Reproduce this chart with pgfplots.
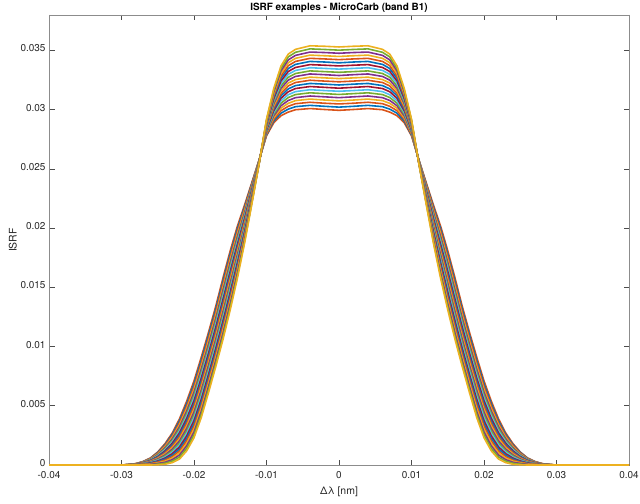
\documentclass[border=0pt]{standalone}
\usepackage{fontspec}
\setmainfont{TeX Gyre Heros}
\usepackage{pgfplots}
\usepackage{pgfplotstable}
\pgfplotsset{compat=1.18}
\definecolor{m1}{rgb}{0,0.447,0.741}
\definecolor{m2}{rgb}{0.85,0.325,0.098}
\definecolor{m3}{rgb}{0.929,0.694,0.125}
\definecolor{m4}{rgb}{0.494,0.184,0.556}
\definecolor{m5}{rgb}{0.466,0.674,0.188}
\definecolor{m6}{rgb}{0.301,0.745,0.933}
\definecolor{m7}{rgb}{0.635,0.078,0.184}
\pgfplotstableread{
x c0 c1 c2 c3 c4 c5 c6 c7 c8 c9 c10 c11 c12 c13 c14 c15 c16 c17 c18 c19 c20
-0.040 0 0 0 0 0 0 0 0 0 0 0 0 0 0 0 0 0 0 0 0 0
-0.030 0 0 0 0 0 0 0 0 0 0 0 0 0 0 0 0 0 0 0 0 0
-0.029 0.00004 0.00004 0.00004 0.00003 0.00003 0.00003 0.00003 0.00003 0.00002 0.00002 0.00002 0.00002 0.00002 0.00001 0.00001 0.00001 0.00001 0.00001 0 0 0
-0.028 0.00012 0.00011 0.00011 0.00010 0.00010 0.00009 0.00008 0.00008 0.00007 0.00007 0.00006 0.00005 0.00005 0.00004 0.00004 0.00003 0.00002 0.00002 0.00001 0.00001 0
-0.027 0.00030 0.00029 0.00027 0.00026 0.00024 0.00023 0.00021 0.00020 0.00018 0.00017 0.00015 0.00014 0.00012 0.00011 0.00009 0.00008 0.00006 0.00005 0.00003 0.00002 0
-0.026 0.00060 0.00057 0.00054 0.00051 0.00048 0.00045 0.00042 0.00039 0.00036 0.00033 0.00030 0.00027 0.00024 0.00021 0.00018 0.00015 0.00012 0.00009 0.00006 0.00003 0
-0.025 0.00110 0.00105 0.00099 0.00094 0.00088 0.00083 0.00078 0.00072 0.00067 0.00061 0.00056 0.00051 0.00045 0.00040 0.00034 0.00029 0.00024 0.00018 0.00013 0.00007 0.00002
-0.024 0.00180 0.00171 0.00163 0.00154 0.00145 0.00137 0.00128 0.00119 0.00110 0.00102 0.00093 0.00084 0.00076 0.00067 0.00058 0.00050 0.00041 0.00032 0.00023 0.00015 0.00006
-0.023 0.00270 0.00258 0.00245 0.00233 0.00220 0.00208 0.00195 0.00183 0.00170 0.00158 0.00145 0.00133 0.00120 0.00108 0.00095 0.00083 0.00070 0.00058 0.00045 0.00033 0.00020
-0.022 0.00390 0.00373 0.00356 0.00339 0.00322 0.00305 0.00288 0.00271 0.00254 0.00237 0.00220 0.00203 0.00186 0.00169 0.00152 0.00135 0.00118 0.00101 0.00084 0.00067 0.00050
-0.021 0.00540 0.00519 0.00498 0.00477 0.00456 0.00435 0.00414 0.00393 0.00372 0.00351 0.00330 0.00309 0.00288 0.00267 0.00246 0.00225 0.00204 0.00183 0.00162 0.00141 0.00120
-0.020 0.00710 0.00686 0.00662 0.00638 0.00614 0.00590 0.00566 0.00542 0.00518 0.00494 0.00470 0.00446 0.00422 0.00398 0.00374 0.00350 0.00326 0.00302 0.00278 0.00254 0.00230
-0.019 0.00910 0.00885 0.00859 0.00834 0.00808 0.00783 0.00757 0.00732 0.00706 0.00681 0.00655 0.00630 0.00604 0.00579 0.00553 0.00528 0.00502 0.00477 0.00451 0.00426 0.00400
-0.018 0.01120 0.01095 0.01069 0.01044 0.01018 0.00993 0.00967 0.00942 0.00916 0.00891 0.00865 0.00840 0.00814 0.00789 0.00763 0.00738 0.00712 0.00687 0.00661 0.00636 0.00610
-0.017 0.01340 0.01315 0.01289 0.01264 0.01238 0.01213 0.01187 0.01162 0.01136 0.01111 0.01085 0.01060 0.01034 0.01009 0.00983 0.00958 0.00932 0.00907 0.00881 0.00856 0.00830
-0.016 0.01580 0.01554 0.01528 0.01502 0.01476 0.01450 0.01424 0.01398 0.01372 0.01346 0.01320 0.01294 0.01268 0.01242 0.01216 0.01190 0.01164 0.01138 0.01112 0.01086 0.01060
-0.015 0.01810 0.01785 0.01760 0.01735 0.01710 0.01685 0.01660 0.01635 0.01610 0.01585 0.01560 0.01535 0.01510 0.01485 0.01460 0.01435 0.01410 0.01385 0.01360 0.01335 0.01310
-0.014 0.02020 0.01998 0.01976 0.01954 0.01932 0.01910 0.01888 0.01866 0.01844 0.01822 0.01800 0.01778 0.01756 0.01734 0.01712 0.01690 0.01668 0.01646 0.01624 0.01602 0.01580
-0.013 0.02200 0.02184 0.02168 0.02152 0.02136 0.02120 0.02104 0.02088 0.02072 0.02056 0.02040 0.02024 0.02008 0.01992 0.01976 0.01960 0.01944 0.01928 0.01912 0.01896 0.01880
-0.012 0.02390 0.02381 0.02372 0.02363 0.02354 0.02345 0.02336 0.02327 0.02318 0.02309 0.02300 0.02291 0.02282 0.02273 0.02264 0.02255 0.02246 0.02237 0.02228 0.02219 0.02210
-0.011 0.02580 0.02579 0.02577 0.02576 0.02574 0.02573 0.02571 0.02570 0.02568 0.02567 0.02565 0.02564 0.02562 0.02561 0.02559 0.02558 0.02556 0.02555 0.02553 0.02552 0.02550
-0.010 0.02780 0.02787 0.02794 0.02801 0.02808 0.02815 0.02822 0.02829 0.02836 0.02843 0.02850 0.02857 0.02864 0.02871 0.02878 0.02885 0.02892 0.02899 0.02906 0.02913 0.02920
-0.009 0.02890 0.02905 0.02919 0.02934 0.02948 0.02963 0.02977 0.02992 0.03006 0.03021 0.03035 0.03050 0.03064 0.03079 0.03093 0.03108 0.03122 0.03137 0.03151 0.03166 0.03180
-0.008 0.02950 0.02971 0.02992 0.03013 0.03034 0.03055 0.03076 0.03097 0.03118 0.03139 0.03160 0.03181 0.03202 0.03223 0.03244 0.03265 0.03286 0.03307 0.03328 0.03349 0.03370
-0.007 0.02980 0.03005 0.03029 0.03054 0.03078 0.03103 0.03127 0.03152 0.03176 0.03201 0.03225 0.03250 0.03274 0.03299 0.03323 0.03348 0.03372 0.03397 0.03421 0.03446 0.03470
-0.006 0.03000 0.03026 0.03051 0.03077 0.03102 0.03128 0.03153 0.03179 0.03204 0.03230 0.03255 0.03281 0.03306 0.03332 0.03357 0.03383 0.03408 0.03434 0.03459 0.03485 0.03510
-0.004 0.03010 0.03037 0.03063 0.03090 0.03116 0.03143 0.03169 0.03196 0.03222 0.03249 0.03275 0.03302 0.03328 0.03355 0.03381 0.03408 0.03434 0.03461 0.03487 0.03514 0.03540
-0.002 0.03002 0.03029 0.03055 0.03082 0.03109 0.03136 0.03162 0.03189 0.03216 0.03242 0.03269 0.03296 0.03322 0.03349 0.03376 0.03403 0.03429 0.03456 0.03483 0.03509 0.03536
0.000 0.02995 0.03022 0.03049 0.03075 0.03102 0.03129 0.03156 0.03182 0.03209 0.03236 0.03263 0.03289 0.03316 0.03343 0.03370 0.03396 0.03423 0.03450 0.03477 0.03503 0.03530
0.002 0.03002 0.03029 0.03055 0.03082 0.03109 0.03136 0.03162 0.03189 0.03216 0.03242 0.03269 0.03296 0.03322 0.03349 0.03376 0.03403 0.03429 0.03456 0.03483 0.03509 0.03536
0.004 0.03010 0.03037 0.03063 0.03090 0.03116 0.03143 0.03169 0.03196 0.03222 0.03249 0.03275 0.03302 0.03328 0.03355 0.03381 0.03408 0.03434 0.03461 0.03487 0.03514 0.03540
0.006 0.03000 0.03026 0.03051 0.03077 0.03102 0.03128 0.03153 0.03179 0.03204 0.03230 0.03255 0.03281 0.03306 0.03332 0.03357 0.03383 0.03408 0.03434 0.03459 0.03485 0.03510
0.007 0.02980 0.03005 0.03029 0.03054 0.03078 0.03103 0.03127 0.03152 0.03176 0.03201 0.03225 0.03250 0.03274 0.03299 0.03323 0.03348 0.03372 0.03397 0.03421 0.03446 0.03470
0.008 0.02950 0.02971 0.02992 0.03013 0.03034 0.03055 0.03076 0.03097 0.03118 0.03139 0.03160 0.03181 0.03202 0.03223 0.03244 0.03265 0.03286 0.03307 0.03328 0.03349 0.03370
0.009 0.02890 0.02905 0.02919 0.02934 0.02948 0.02963 0.02977 0.02992 0.03006 0.03021 0.03035 0.03050 0.03064 0.03079 0.03093 0.03108 0.03122 0.03137 0.03151 0.03166 0.03180
0.010 0.02780 0.02787 0.02794 0.02801 0.02808 0.02815 0.02822 0.02829 0.02836 0.02843 0.02850 0.02857 0.02864 0.02871 0.02878 0.02885 0.02892 0.02899 0.02906 0.02913 0.02920
0.011 0.02580 0.02579 0.02577 0.02576 0.02574 0.02573 0.02571 0.02570 0.02568 0.02567 0.02565 0.02564 0.02562 0.02561 0.02559 0.02558 0.02556 0.02555 0.02553 0.02552 0.02550
0.012 0.02390 0.02381 0.02372 0.02363 0.02354 0.02345 0.02336 0.02327 0.02318 0.02309 0.02300 0.02291 0.02282 0.02273 0.02264 0.02255 0.02246 0.02237 0.02228 0.02219 0.02210
0.013 0.02200 0.02184 0.02168 0.02152 0.02136 0.02120 0.02104 0.02088 0.02072 0.02056 0.02040 0.02024 0.02008 0.01992 0.01976 0.01960 0.01944 0.01928 0.01912 0.01896 0.01880
0.014 0.02020 0.01998 0.01976 0.01954 0.01932 0.01910 0.01888 0.01866 0.01844 0.01822 0.01800 0.01778 0.01756 0.01734 0.01712 0.01690 0.01668 0.01646 0.01624 0.01602 0.01580
0.015 0.01810 0.01785 0.01760 0.01735 0.01710 0.01685 0.01660 0.01635 0.01610 0.01585 0.01560 0.01535 0.01510 0.01485 0.01460 0.01435 0.01410 0.01385 0.01360 0.01335 0.01310
0.016 0.01580 0.01554 0.01528 0.01502 0.01476 0.01450 0.01424 0.01398 0.01372 0.01346 0.01320 0.01294 0.01268 0.01242 0.01216 0.01190 0.01164 0.01138 0.01112 0.01086 0.01060
0.017 0.01340 0.01315 0.01289 0.01264 0.01238 0.01213 0.01187 0.01162 0.01136 0.01111 0.01085 0.01060 0.01034 0.01009 0.00983 0.00958 0.00932 0.00907 0.00881 0.00856 0.00830
0.018 0.01120 0.01095 0.01069 0.01044 0.01018 0.00993 0.00967 0.00942 0.00916 0.00891 0.00865 0.00840 0.00814 0.00789 0.00763 0.00738 0.00712 0.00687 0.00661 0.00636 0.00610
0.019 0.00910 0.00885 0.00859 0.00834 0.00808 0.00783 0.00757 0.00732 0.00706 0.00681 0.00655 0.00630 0.00604 0.00579 0.00553 0.00528 0.00502 0.00477 0.00451 0.00426 0.00400
0.020 0.00710 0.00686 0.00662 0.00638 0.00614 0.00590 0.00566 0.00542 0.00518 0.00494 0.00470 0.00446 0.00422 0.00398 0.00374 0.00350 0.00326 0.00302 0.00278 0.00254 0.00230
0.021 0.00540 0.00519 0.00498 0.00477 0.00456 0.00435 0.00414 0.00393 0.00372 0.00351 0.00330 0.00309 0.00288 0.00267 0.00246 0.00225 0.00204 0.00183 0.00162 0.00141 0.00120
0.022 0.00390 0.00373 0.00356 0.00339 0.00322 0.00305 0.00288 0.00271 0.00254 0.00237 0.00220 0.00203 0.00186 0.00169 0.00152 0.00135 0.00118 0.00101 0.00084 0.00067 0.00050
0.023 0.00270 0.00258 0.00245 0.00233 0.00220 0.00208 0.00195 0.00183 0.00170 0.00158 0.00145 0.00133 0.00120 0.00108 0.00095 0.00083 0.00070 0.00058 0.00045 0.00033 0.00020
0.024 0.00180 0.00171 0.00163 0.00154 0.00145 0.00137 0.00128 0.00119 0.00110 0.00102 0.00093 0.00084 0.00076 0.00067 0.00058 0.00050 0.00041 0.00032 0.00023 0.00015 0.00006
0.025 0.00110 0.00105 0.00099 0.00094 0.00088 0.00083 0.00078 0.00072 0.00067 0.00061 0.00056 0.00051 0.00045 0.00040 0.00034 0.00029 0.00024 0.00018 0.00013 0.00007 0.00002
0.026 0.00060 0.00057 0.00054 0.00051 0.00048 0.00045 0.00042 0.00039 0.00036 0.00033 0.00030 0.00027 0.00024 0.00021 0.00018 0.00015 0.00012 0.00009 0.00006 0.00003 0
0.027 0.00030 0.00029 0.00027 0.00026 0.00024 0.00023 0.00021 0.00020 0.00018 0.00017 0.00015 0.00014 0.00012 0.00011 0.00009 0.00008 0.00006 0.00005 0.00003 0.00002 0
0.028 0.00012 0.00011 0.00011 0.00010 0.00010 0.00009 0.00008 0.00008 0.00007 0.00007 0.00006 0.00005 0.00005 0.00004 0.00004 0.00003 0.00002 0.00002 0.00001 0.00001 0
0.029 0.00004 0.00004 0.00004 0.00003 0.00003 0.00003 0.00003 0.00003 0.00002 0.00002 0.00002 0.00002 0.00002 0.00001 0.00001 0.00001 0.00001 0.00001 0 0 0
0.030 0 0 0 0 0 0 0 0 0 0 0 0 0 0 0 0 0 0 0 0 0
0.040 0 0 0 0 0 0 0 0 0 0 0 0 0 0 0 0 0 0 0 0 0
}\isrf
\begin{document}
\begin{tikzpicture}
\begin{axis}[
  scale only axis, width=580bp, height=450bp,
  xmin=-0.04, xmax=0.04, ymin=0, ymax=0.038,
  xtick={-0.04,-0.03,-0.02,-0.01,0,0.01,0.02,0.03,0.04},
  ytick={0,0.005,0.01,0.015,0.02,0.025,0.03,0.035},
  scaled x ticks=false, scaled y ticks=false,
  xticklabel style={/pgf/number format/.cd,fixed,precision=2,/tikz/.cd,yshift=-3bp},
  yticklabel style={/pgf/number format/.cd,fixed,precision=3,/tikz/.cd,yshift=2bp},
  /pgf/number format/assume math mode=true,
  tick align=inside, tick pos=both,
  major tick length=5.5bp,
  axis line style={draw=black!45, line width=0.7bp},
  tick style={draw=black!70, line width=0.6bp},
  ticklabel style={font=\fontsize{10}{12}\selectfont, text=black!85},
  every axis title shift=0pt,
  title={ISRF examples - MicroCarb (band B1)},
  title style={at={(0.5,1)}, anchor=base, inner sep=0pt, yshift=4bp, font=\bfseries\fontsize{10}{12}\selectfont},
  xlabel={Δλ [nm]},
  ylabel={ISRF},
  xlabel style={yshift=-1bp},
  ylabel style={yshift=-3bp},
  label style={font=\fontsize{10.5}{12}\selectfont, text=black!85},
  every axis plot/.append style={line width=1.6pt, line join=round},
]
\addplot[m2] table[x=x,y=c0]{\isrf};
\addplot[m1] table[x=x,y=c1]{\isrf};
\addplot[m2] table[x=x,y=c2]{\isrf};
\addplot[m3] table[x=x,y=c3]{\isrf};
\addplot[m4] table[x=x,y=c4]{\isrf};
\addplot[m5] table[x=x,y=c5]{\isrf};
\addplot[m6] table[x=x,y=c6]{\isrf};
\addplot[m7] table[x=x,y=c7]{\isrf};
\addplot[m1] table[x=x,y=c8]{\isrf};
\addplot[m2] table[x=x,y=c9]{\isrf};
\addplot[m3] table[x=x,y=c10]{\isrf};
\addplot[m4] table[x=x,y=c11]{\isrf};
\addplot[m5] table[x=x,y=c12]{\isrf};
\addplot[m6] table[x=x,y=c13]{\isrf};
\addplot[m7] table[x=x,y=c14]{\isrf};
\addplot[m1] table[x=x,y=c15]{\isrf};
\addplot[m2] table[x=x,y=c16]{\isrf};
\addplot[m3] table[x=x,y=c17]{\isrf};
\addplot[m4] table[x=x,y=c18]{\isrf};
\addplot[m5] table[x=x,y=c19]{\isrf};
\addplot[m3] table[x=x,y=c20]{\isrf};
\end{axis}
\pgfresetboundingbox
\useasboundingbox ([shift={(-49bp,-38bp)}]current axis.south west) rectangle ([shift={(11bp,15bp)}]current axis.north east);
\end{tikzpicture}
\end{document}
